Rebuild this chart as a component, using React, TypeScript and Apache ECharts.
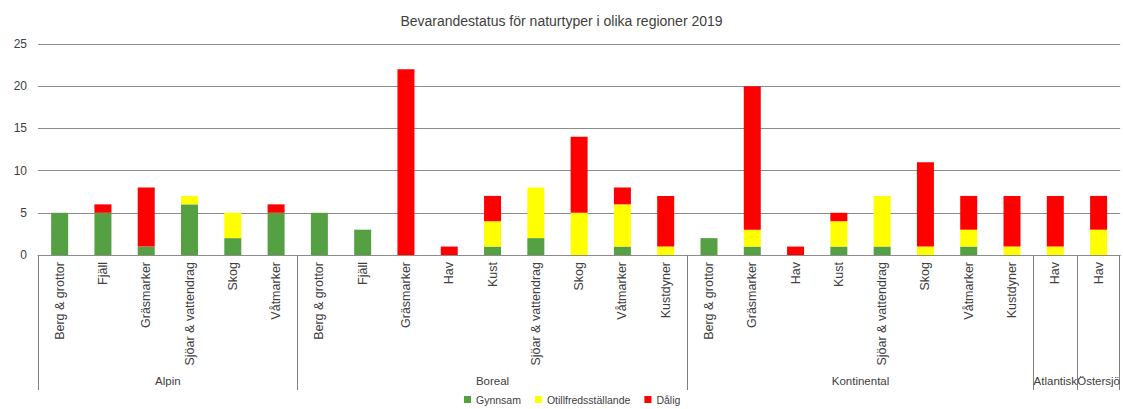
import React, { useEffect, useRef } from "react";
import * as echarts from "echarts";

const categories = [
  "Berg & grottor", "Fjäll", "Gräsmarker", "Sjöar & vattendrag", "Skog", "Våtmarker",
  "Berg & grottor", "Fjäll", "Gräsmarker", "Hav", "Kust", "Sjöar & vattendrag", "Skog", "Våtmarker", "Kustdyner",
  "Berg & grottor", "Gräsmarker", "Hav", "Kust", "Sjöar & vattendrag", "Skog", "Våtmarker", "Kustdyner",
  "Hav",
  "Hav",
];
const regions = ["Alpin", "Boreal", "Kontinental", "Atlantisk", "Östersjö"];
const regionSizes = [6, 9, 8, 1, 1];

const gynnsam = [5, 5, 1, 6, 2, 5, 5, 3, 0, 0, 1, 2, 0, 1, 0, 2, 1, 0, 1, 1, 0, 1, 0, 0, 0];
const otillfredsstallande = [0, 0, 0, 1, 3, 0, 0, 0, 0, 0, 3, 6, 5, 5, 1, 0, 2, 0, 3, 6, 1, 2, 1, 1, 3];
const dalig = [0, 1, 7, 0, 0, 1, 0, 0, 22, 1, 3, 0, 9, 2, 6, 0, 17, 1, 1, 0, 10, 4, 6, 6, 4];

const FONT = "Liberation Sans";

export default function App() {
  const ref = useRef<HTMLDivElement>(null);
  useEffect(() => {
    if (!ref.current) return;
    const chart = echarts.init(ref.current, undefined, { renderer: "svg" });
    const bounds: number[] = [0];
    regionSizes.forEach((s, i) => bounds.push(bounds[i] + s));
    const centers = regionSizes.map((s, i) => bounds[i] + s / 2);
    const labelFor = (v: number) => {
      const idx = centers.findIndex((c) => Math.abs(c - v) < 1e-6);
      return idx >= 0 ? regions[idx] : "";
    };
    // Split group labels over two overlay axes so neighbouring narrow groups are not hidden
    const centersA = centers.filter((_, i) => i % 2 === 0);
    const centersB = centers.filter((_, i) => i % 2 === 1);
    const groupAxis = (vals: number[], tickVals: number[]) => ({
      type: "value",
      min: 0,
      max: 25,
      position: "bottom",
      offset: 135,
      axisLine: { show: false },
      splitLine: { show: false },
      axisTick: {
        show: true,
        inside: true,
        length: 135,
        customValues: tickVals,
        lineStyle: { color: "#7f7f7f" },
      },
      axisLabel: {
        show: true,
        hideOverlap: false,
        showMinLabel: true,
        showMaxLabel: true,
        customValues: vals,
        margin: -15,
        fontSize: 11.5,
        color: "#404040",
        fontFamily: FONT,
        formatter: labelFor,
      },
    });
    chart.setOption({
      animation: false,
      textStyle: { fontFamily: FONT },
      title: {
        text: "Bevarandestatus för naturtyper i olika regioner 2019",
        left: "center",
        top: 9,
        textStyle: { fontSize: 14, fontWeight: "normal", color: "#404040", fontFamily: FONT },
      },
      legend: {
        bottom: -1,
        left: 459,
        itemWidth: 7,
        itemHeight: 7,
        itemGap: 14,
        icon: "rect",
        textStyle: { fontSize: 10.5, color: "#404040", fontFamily: FONT },
        data: ["Gynnsam", "Otillfredsställande", "Dålig"],
      },
      grid: { left: 38, right: 2, top: 44, bottom: 154, containLabel: false },
      xAxis: [
        {
          type: "category",
          data: categories,
          axisLine: { show: true, lineStyle: { color: "#8c8c8c" } },
          axisTick: { show: false },
          axisLabel: {
            rotate: 90,
            interval: 0,
            margin: 7,
            fontSize: 12.5,
            color: "#404040",
            fontFamily: FONT,
          },
        },
        groupAxis(centersA, bounds.slice(0, -1)),
        groupAxis(centersB, [bounds[bounds.length - 1] - 0.02]),
      ],
      yAxis: {
        type: "value",
        min: 0,
        max: 25,
        interval: 5,
        axisLine: { show: false },
        axisTick: { show: false },
        axisLabel: { fontSize: 12, color: "#404040", margin: 11, fontFamily: FONT },
        splitLine: { lineStyle: { color: "#8c8c8c", width: 1 } },
      },
      series: [
        { name: "Gynnsam", type: "bar", stack: "a", barWidth: 17, data: gynnsam, itemStyle: { color: "#56a044" } },
        { name: "Otillfredsställande", type: "bar", stack: "a", barWidth: 17, data: otillfredsstallande, itemStyle: { color: "#ffff00" } },
        { name: "Dålig", type: "bar", stack: "a", barWidth: 17, data: dalig, itemStyle: { color: "#ff0000" } },
      ],
    });
    return () => chart.dispose();
  }, []);
  return <div ref={ref} style={{ width: 1123, height: 409, position: "absolute", left: 0, top: 0 }} />;
}
